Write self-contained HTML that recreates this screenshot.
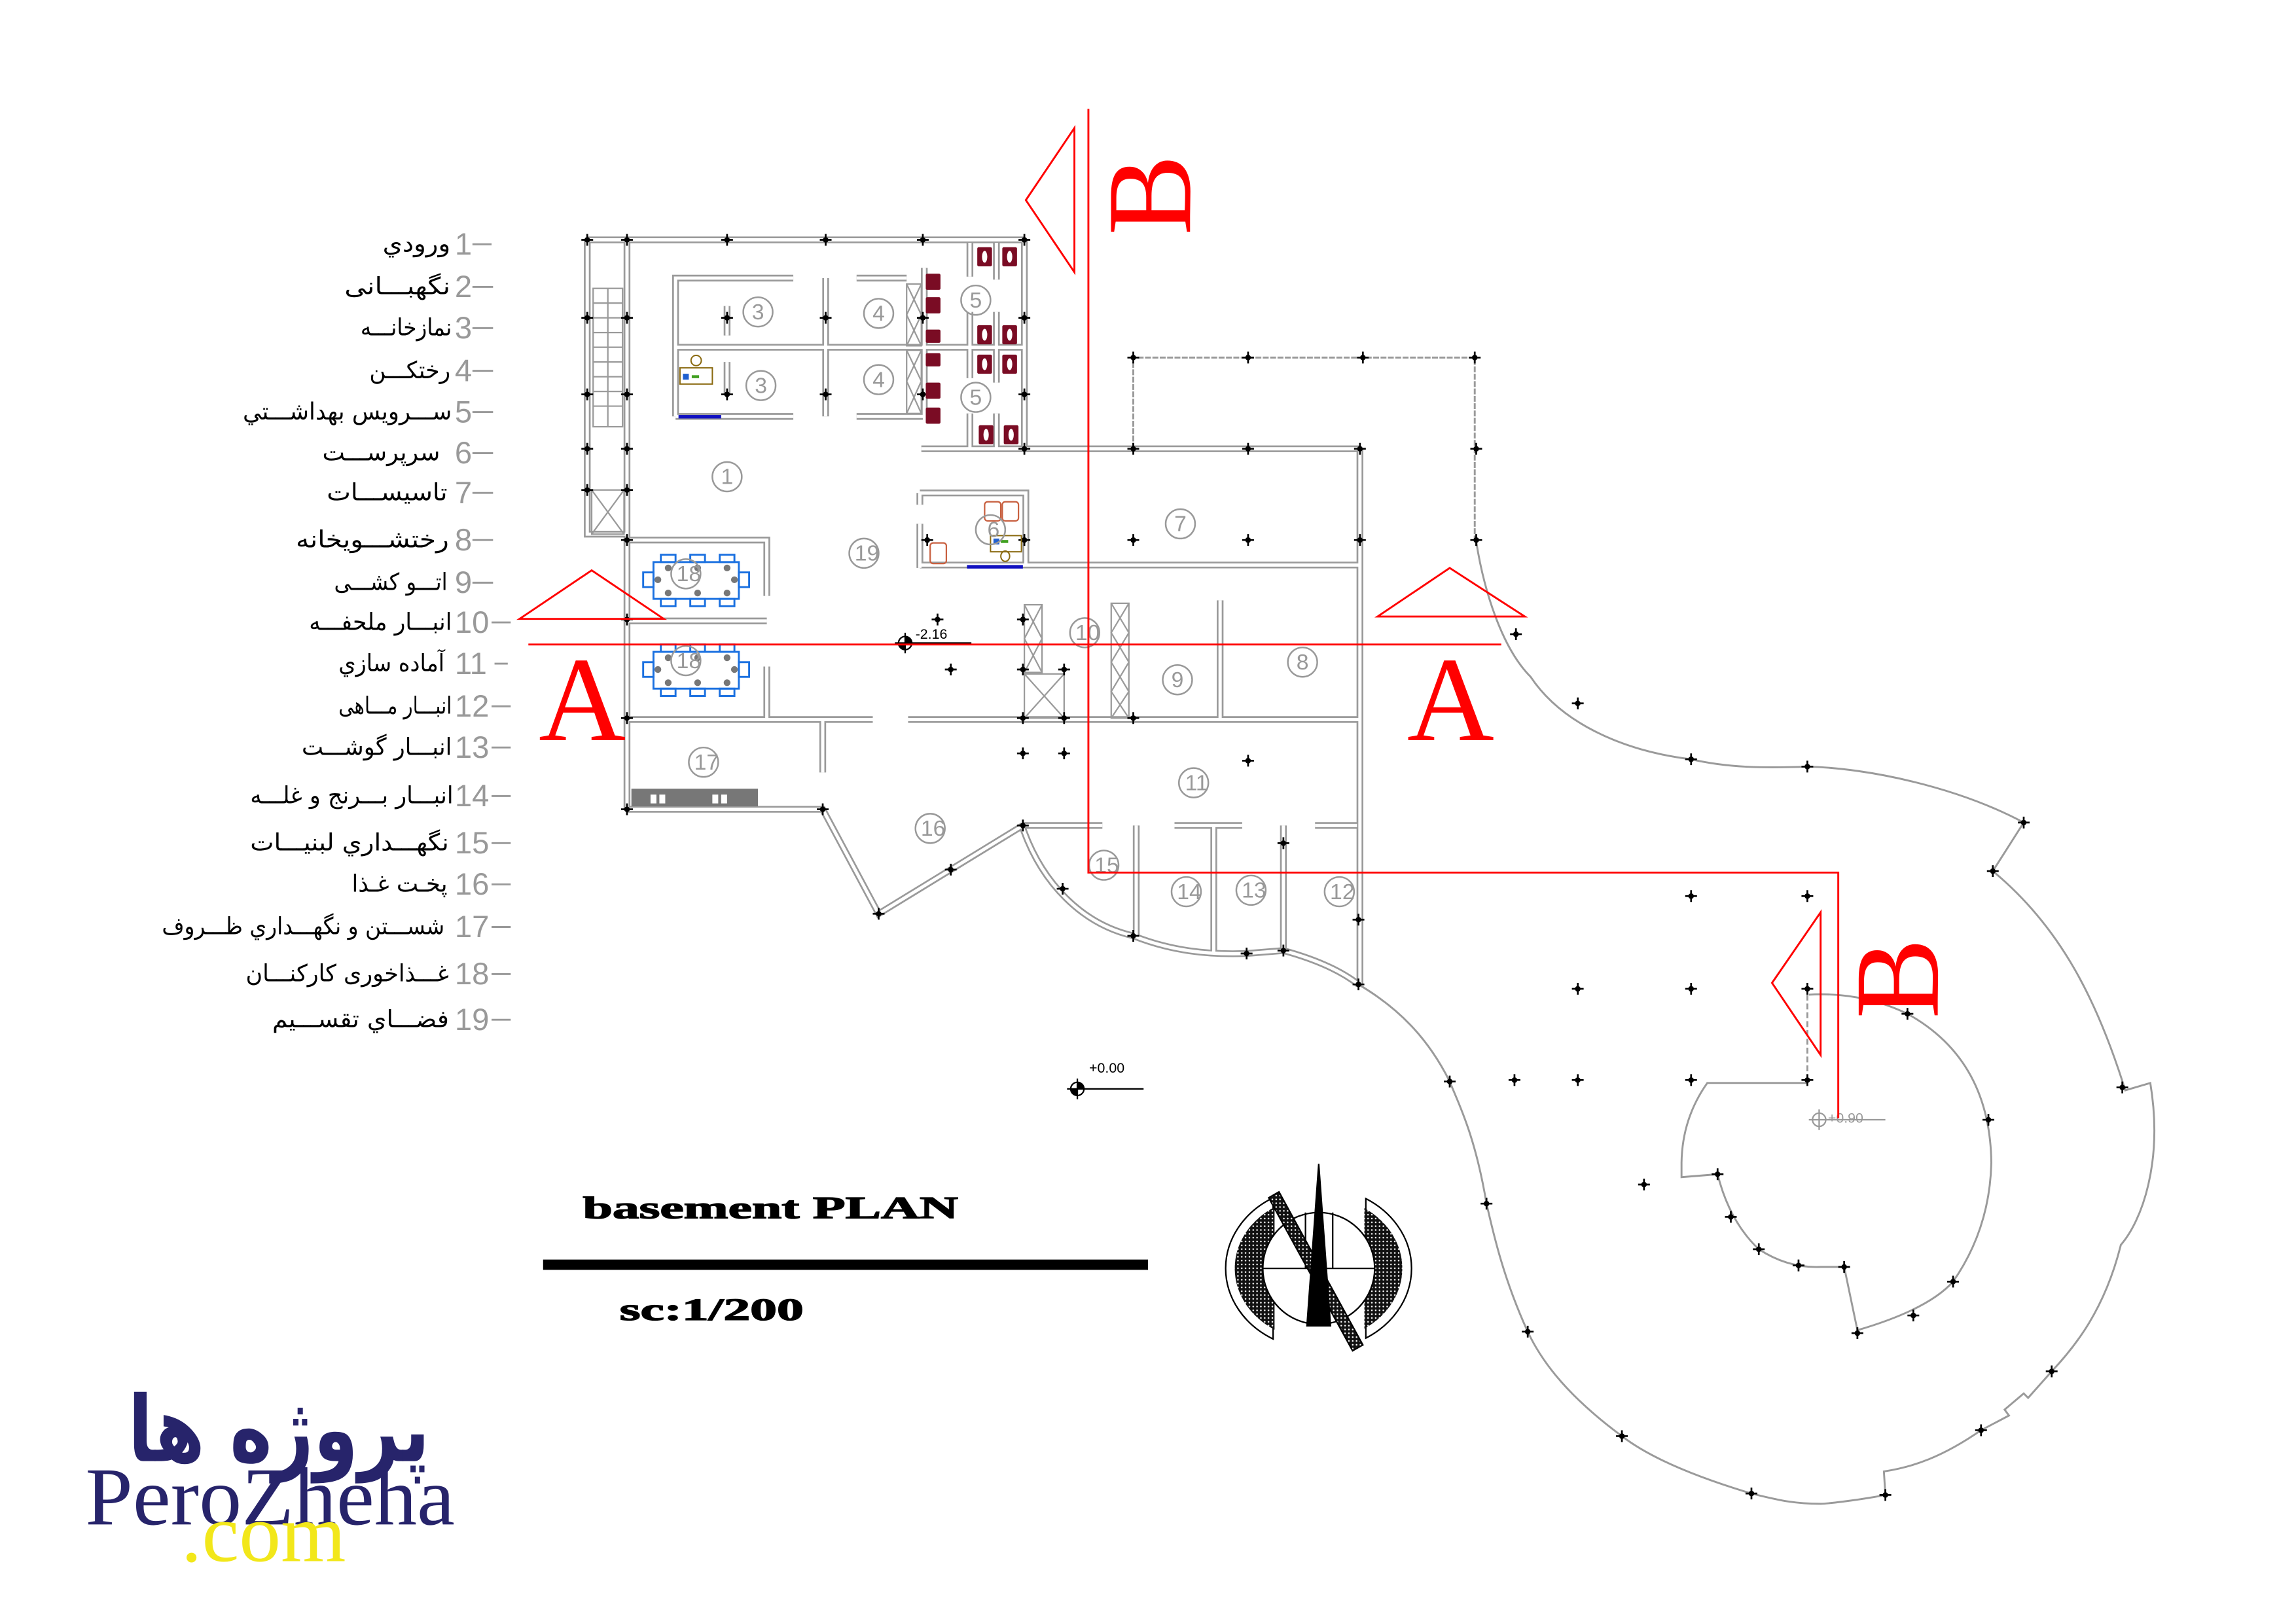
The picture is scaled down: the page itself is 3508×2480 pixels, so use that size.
<!DOCTYPE html>
<html><head><meta charset="utf-8"><style>
html,body{margin:0;padding:0;background:#fff;}
svg{display:block;}
</style></head><body>
<svg xmlns="http://www.w3.org/2000/svg" xmlns:xlink="http://www.w3.org/1999/xlink" width="3508" height="2480" viewBox="0 0 1560 1103" preserveAspectRatio="none">
<defs>
<g id="c"><path d="M-4,0H4M0,-4V4" stroke="#000" stroke-width="1.2"/><circle r="1.9" fill="#000"/></g>
<pattern id="hat" width="2.6" height="2.6" patternUnits="userSpaceOnUse"><rect width="2.6" height="2.6" fill="#111"/><circle cx="1.3" cy="1.3" r="0.55" fill="#fff"/></pattern>
<g id="walls">
<path d="M399,163H696 M399,163V363H426 M426,163V550 M426,550H559 L597,621 L695,561
M696,163V305 M626,305H924 M924,305V669
M459,283V189H539 M582,189H616 M561,189V283 M459,236H627 M494,208V228 M494,246V268 M459,283H539 M582,283H627 M628,182V284
M659,165V188 M659,212V236 M677,165V190 M677,212V236 M627,236H696 M659,236V257 M659,281V305 M677,236V260 M677,281V305
M625,335H697V384 M625,335V343 M625,356V386 M625,384H924
M426,367H521V405 M426,422H521 M521,453V489 M426,489H593 M617,489H924 M559,489V525
M829,408V489
M695,561H749 M772,561V636 M798,561H844 M824.7,561V647 M872,561V646 M893.5,561H922
M695,563 C708,600 735,628 770,636 C795,646 820,649 847,648 L872,646 Q905,655 923,669"/>
</g>
</defs>
<rect width="1560" height="1103" fill="#fff"/>

<g fill="none" stroke-linejoin="miter">
<use xlink:href="#walls" stroke="#9a9a9a" stroke-width="4.6"/>
<use xlink:href="#walls" stroke="#fff" stroke-width="2.2"/>
</g>

<g stroke="#9a9a9a" stroke-width="1" fill="none">
<rect x="403" y="196" width="20" height="94"/>
<path d="M403,206H423M403,216H423M403,226H423M403,236H423M403,246H423M403,256H423M403,266H423M403,276H423M413,196V290"/>
<rect x="402" y="333" width="22" height="30"/><path d="M402,333L424,363M424,333L402,363"/>
<rect x="616" y="193" width="10" height="42"/><path d="M616,193L626,214L616,235M626,193L616,214L626,235"/>
<rect x="616" y="238" width="10" height="43"/><path d="M616,238L626,259L616,281M626,238L616,259L626,281"/>
<rect x="696" y="411" width="12" height="46"/><path d="M696,411L708,434L696,457M708,411L696,434L708,457"/>
<rect x="696" y="458" width="27" height="30"/><path d="M696,458L723,488M723,458L696,488"/>
<rect x="755" y="410" width="12" height="78"/><path d="M755,410L767,430L755,450L767,470L755,488M767,410L755,430L767,450L755,470L767,488"/>
</g>

<g fill="none" stroke="#9a9a9a" stroke-width="1.3">
<path d="M770,305V243H1002V368" stroke-dasharray="4,1"/>
<path d="M1003,368 C1008,400 1020,440 1040,460 C1060,490 1100,510 1149,516 C1175,522 1200,522 1228,521 C1270,522 1330,535 1375,559 L1354,592 C1400,630 1425,680 1444,741 L1461,736 C1470,790 1455,830 1441,846 C1430,890 1410,915 1394,932 L1378,950 L1375,947 L1362,958 L1365,962 L1346,972 C1320,990 1300,997 1280,1000 L1281,1016 C1260,1020 1240,1022 1237,1022 C1220,1022 1210,1020 1190,1015 C1150,1003 1120,990 1102,976 C1060,945 1045,920 1038,905 C1022,870 1015,840 1010,818 C1002,770 990,748 985,735 C970,705 950,685 923,669"/>
<path d="M1228,736H1160 Q1143,760 1142.5,790 L1142.5,800 L1167,798 Q1175,830 1195,849 Q1215,862 1237,861 L1253,861 L1262,904 Q1310,890 1327,871 Q1352,835 1353,790 Q1352,720 1296,689 Q1265,674 1229,676"/>
<path d="M1228,676V736" stroke-dasharray="4,2"/>
</g>

<g>
<use xlink:href="#c" x="399" y="163"/><use xlink:href="#c" x="426" y="163"/><use xlink:href="#c" x="494" y="163"/><use xlink:href="#c" x="561" y="163"/><use xlink:href="#c" x="627" y="163"/><use xlink:href="#c" x="696" y="163"/>
<use xlink:href="#c" x="399" y="216"/><use xlink:href="#c" x="426" y="216"/><use xlink:href="#c" x="494" y="216"/><use xlink:href="#c" x="561" y="216"/><use xlink:href="#c" x="627" y="216"/><use xlink:href="#c" x="696" y="216"/>
<use xlink:href="#c" x="399" y="268"/><use xlink:href="#c" x="426" y="268"/><use xlink:href="#c" x="494" y="268"/><use xlink:href="#c" x="561" y="268"/><use xlink:href="#c" x="627" y="268"/><use xlink:href="#c" x="696" y="268"/>
<use xlink:href="#c" x="399" y="305"/><use xlink:href="#c" x="426" y="305"/><use xlink:href="#c" x="696" y="305"/><use xlink:href="#c" x="770" y="305"/><use xlink:href="#c" x="848" y="305"/><use xlink:href="#c" x="924" y="305"/><use xlink:href="#c" x="1003" y="305"/>
<use xlink:href="#c" x="399" y="333"/><use xlink:href="#c" x="426" y="333"/>
<use xlink:href="#c" x="426" y="367"/><use xlink:href="#c" x="630" y="367"/><use xlink:href="#c" x="696" y="367"/><use xlink:href="#c" x="770" y="367"/><use xlink:href="#c" x="848" y="367"/><use xlink:href="#c" x="924" y="367"/><use xlink:href="#c" x="1003" y="367"/>
<use xlink:href="#c" x="426" y="421"/><use xlink:href="#c" x="637" y="421"/><use xlink:href="#c" x="695" y="421"/>
<use xlink:href="#c" x="646" y="455"/><use xlink:href="#c" x="695" y="455"/><use xlink:href="#c" x="723" y="455"/>
<use xlink:href="#c" x="426" y="488"/><use xlink:href="#c" x="695" y="488"/><use xlink:href="#c" x="723" y="488"/><use xlink:href="#c" x="770" y="488"/>
<use xlink:href="#c" x="695" y="512"/><use xlink:href="#c" x="723" y="512"/><use xlink:href="#c" x="848" y="517"/>
<use xlink:href="#c" x="426" y="550"/><use xlink:href="#c" x="559" y="550"/><use xlink:href="#c" x="695" y="561"/>
<use xlink:href="#c" x="646" y="591"/><use xlink:href="#c" x="597" y="621"/><use xlink:href="#c" x="722" y="604"/><use xlink:href="#c" x="770" y="636"/>
<use xlink:href="#c" x="847" y="648"/><use xlink:href="#c" x="872" y="646"/><use xlink:href="#c" x="872" y="573"/><use xlink:href="#c" x="923" y="625"/><use xlink:href="#c" x="923" y="669"/>
<use xlink:href="#c" x="770" y="243"/><use xlink:href="#c" x="848" y="243"/><use xlink:href="#c" x="926" y="243"/><use xlink:href="#c" x="1002" y="243"/>
<use xlink:href="#c" x="1030" y="431"/><use xlink:href="#c" x="1072" y="478"/><use xlink:href="#c" x="1149" y="516"/><use xlink:href="#c" x="1228" y="521"/><use xlink:href="#c" x="1375" y="559"/><use xlink:href="#c" x="1354" y="592"/>
<use xlink:href="#c" x="1149" y="609"/><use xlink:href="#c" x="1228" y="609"/><use xlink:href="#c" x="1072" y="672"/><use xlink:href="#c" x="1149" y="672"/><use xlink:href="#c" x="1228" y="672"/>
<use xlink:href="#c" x="985" y="735"/><use xlink:href="#c" x="1029" y="734"/><use xlink:href="#c" x="1072" y="734"/><use xlink:href="#c" x="1149" y="734"/><use xlink:href="#c" x="1228" y="734"/>
<use xlink:href="#c" x="1117" y="805"/><use xlink:href="#c" x="1167" y="798"/><use xlink:href="#c" x="1176" y="827"/><use xlink:href="#c" x="1195" y="849"/><use xlink:href="#c" x="1222" y="860"/><use xlink:href="#c" x="1253" y="861"/><use xlink:href="#c" x="1262" y="906"/>
<use xlink:href="#c" x="1296" y="689"/><use xlink:href="#c" x="1351" y="761"/><use xlink:href="#c" x="1327" y="871"/><use xlink:href="#c" x="1300" y="894"/>
<use xlink:href="#c" x="1442" y="739"/><use xlink:href="#c" x="1394" y="932"/><use xlink:href="#c" x="1346" y="972"/><use xlink:href="#c" x="1281" y="1016"/><use xlink:href="#c" x="1190" y="1015"/><use xlink:href="#c" x="1102" y="976"/><use xlink:href="#c" x="1038" y="905"/><use xlink:href="#c" x="1010" y="818"/>
</g>

<g fill="#7a0c24">
<rect x="664" y="168" width="10" height="13" rx="1"/><rect x="681" y="168" width="10" height="13" rx="1"/>
<rect x="664" y="221" width="10" height="13" rx="1"/><rect x="681" y="221" width="10" height="13" rx="1"/>
<rect x="664" y="241" width="10" height="13" rx="1"/><rect x="681" y="241" width="10" height="13" rx="1"/>
<rect x="665" y="289" width="10" height="13" rx="1"/><rect x="682" y="289" width="10" height="13" rx="1"/>
<rect x="629" y="186" width="10" height="11" rx="1"/><rect x="629" y="202" width="10" height="11" rx="1"/><rect x="629" y="224" width="10" height="9" rx="1"/>
<rect x="629" y="240" width="10" height="9" rx="1"/><rect x="629" y="260" width="10" height="11" rx="1"/><rect x="629" y="277" width="10" height="11" rx="1"/>
</g>
<g fill="#fff"><ellipse cx="669" cy="174.5" rx="1.8" ry="4"/><ellipse cx="686" cy="174.5" rx="1.8" ry="4"/><ellipse cx="669" cy="227.5" rx="1.8" ry="4"/><ellipse cx="686" cy="227.5" rx="1.8" ry="4"/><ellipse cx="669" cy="247.5" rx="1.8" ry="4"/><ellipse cx="686" cy="247.5" rx="1.8" ry="4"/><ellipse cx="670" cy="295.5" rx="1.8" ry="4"/><ellipse cx="687" cy="295.5" rx="1.8" ry="4"/></g>
<rect x="461" y="282" width="29" height="2.4" fill="#1010c0"/>
<rect x="657" y="384" width="38" height="2.4" fill="#1010c0"/>
<g fill="none" stroke="#8a6a10" stroke-width="0.9"><rect x="462" y="250" width="22" height="11"/><circle cx="473" cy="245" r="3.5"/><rect x="673" y="364" width="21" height="11"/><ellipse cx="683" cy="378" rx="3" ry="3.5"/></g>
<rect x="464" y="254" width="4" height="4" fill="#2060d0"/><rect x="675" y="366" width="4" height="4" fill="#2060d0"/><rect x="470" y="255" width="5" height="2" fill="#40a020"/><rect x="680" y="367" width="5" height="2" fill="#40a020"/>
<g fill="none" stroke="#c86040" stroke-width="1"><rect x="669" y="341" width="11" height="13" rx="2"/><rect x="681" y="341" width="11" height="13" rx="2"/><rect x="632" y="369" width="11" height="14" rx="2"/></g>
<g fill="none" stroke="#1a70e0" stroke-width="1.3">
<rect x="444" y="382" width="58" height="25"/><rect x="449" y="377" width="10" height="5"/><rect x="469" y="377" width="10" height="5"/><rect x="489" y="377" width="10" height="5"/><rect x="449" y="407" width="10" height="5"/><rect x="469" y="407" width="10" height="5"/><rect x="489" y="407" width="10" height="5"/><rect x="437" y="389" width="7" height="10"/><rect x="502" y="389" width="7" height="10"/>
<rect x="444" y="443" width="58" height="25"/><rect x="449" y="438" width="10" height="5"/><rect x="469" y="438" width="10" height="5"/><rect x="489" y="438" width="10" height="5"/><rect x="449" y="468" width="10" height="5"/><rect x="469" y="468" width="10" height="5"/><rect x="489" y="468" width="10" height="5"/><rect x="437" y="450" width="7" height="10"/><rect x="502" y="450" width="7" height="10"/>
</g>
<g fill="#777"><circle cx="454" cy="386" r="2.3"/><circle cx="474" cy="386" r="2.3"/><circle cx="494" cy="386" r="2.3"/><circle cx="454" cy="403" r="2.3"/><circle cx="474" cy="403" r="2.3"/><circle cx="494" cy="403" r="2.3"/><circle cx="447" cy="394" r="2.3"/><circle cx="499" cy="394" r="2.3"/>
<circle cx="454" cy="447" r="2.3"/><circle cx="474" cy="447" r="2.3"/><circle cx="494" cy="447" r="2.3"/><circle cx="454" cy="464" r="2.3"/><circle cx="474" cy="464" r="2.3"/><circle cx="494" cy="464" r="2.3"/><circle cx="447" cy="455" r="2.3"/><circle cx="499" cy="455" r="2.3"/></g>
<rect x="429" y="536" width="86" height="12" fill="#777"/>
<g fill="#fff"><rect x="442" y="540" width="4" height="6"/><rect x="448" y="540" width="4" height="6"/><rect x="484" y="540" width="4" height="6"/><rect x="490" y="540" width="4" height="6"/></g>

<g fill="none" stroke="#999" stroke-width="1.1">
<circle cx="515" cy="212" r="10"/><circle cx="517" cy="262" r="10"/><circle cx="597" cy="213" r="10"/><circle cx="597" cy="258" r="10"/><circle cx="663" cy="204" r="10"/><circle cx="663" cy="270" r="10"/><circle cx="494" cy="324" r="10"/><circle cx="587" cy="376" r="10"/><circle cx="673" cy="360" r="10"/><circle cx="802" cy="356" r="10"/><circle cx="737" cy="430" r="10"/><circle cx="800" cy="462" r="10"/><circle cx="885" cy="450" r="10"/><circle cx="466" cy="390" r="10"/><circle cx="466" cy="449" r="10"/><circle cx="478" cy="518" r="10"/><circle cx="811" cy="532" r="10"/><circle cx="632" cy="563" r="10"/><circle cx="750" cy="588" r="10"/><circle cx="806" cy="606" r="10"/><circle cx="850" cy="605" r="10"/><circle cx="910" cy="606" r="10"/>
</g>
<g font-family="Liberation Sans, sans-serif" font-size="15" fill="#999" text-anchor="middle">
<text x="515" y="217">3</text><text x="517" y="267">3</text><text x="597" y="218">4</text><text x="597" y="263">4</text><text x="663" y="209">5</text><text x="663" y="275">5</text><text x="494" y="329">1</text><text x="589" y="381">19</text><text x="675" y="365">6</text><text x="802" y="361">7</text><text x="739" y="435">10</text><text x="800" y="467">9</text><text x="885" y="455">8</text><text x="468" y="395">18</text><text x="468" y="454">18</text><text x="480" y="523">17</text><text x="813" y="537">11</text><text x="634" y="568">16</text><text x="752" y="593">15</text><text x="808" y="611">14</text><text x="852" y="610">13</text><text x="912" y="611">12</text>
</g>

<g stroke="#000" stroke-width="1" fill="none"><circle cx="615" cy="437" r="4.5"/><path d="M608,437H660M615,430V444"/><circle cx="732" cy="740" r="4.5"/><path d="M725,740H777M732,733V747"/></g>
<path d="M615,437V432.5A4.5,4.5 0 0 1 619.5,437Z M615,437V441.5A4.5,4.5 0 0 1 610.5,437Z" fill="#000"/>
<path d="M732,740V735.5A4.5,4.5 0 0 1 736.5,740Z M732,740V744.5A4.5,4.5 0 0 1 727.5,740Z" fill="#000"/>
<g stroke="#999" stroke-width="1" fill="none"><circle cx="1236" cy="761" r="4.5"/><path d="M1229,761H1281M1236,754V768"/></g>
<g font-family="Liberation Sans, sans-serif" font-size="9.5"><text x="622" y="434">-2.16</text><text x="740" y="729">+0.00</text><text x="1242" y="763" fill="#999">+0.90</text></g>

<g stroke="#f00" stroke-width="1.3" fill="none">
<path d="M739.5,74V593H1249V760"/>
<path d="M359,438H1020"/>
<path d="M730,87L697,136L730,185Z"/>
<path d="M1237,620L1204,668L1237,717Z"/>
<path d="M353,420.6L402,387.6L451,420.6Z"/>
<path d="M936,419L985,386L1036,419Z"/>
</g>
<g font-family="Liberation Serif, serif" fill="#f00" font-size="82">
<text x="366" y="503">A</text><text x="956" y="503">A</text>
<text x="0" y="0" text-anchor="middle" dominant-baseline="central" transform="translate(781,132.5) rotate(-90)">B</text>
<text x="0" y="0" text-anchor="middle" dominant-baseline="central" transform="translate(1289,665) rotate(-90)">B</text>
</g>

<g font-family="DejaVu Sans, sans-serif" font-size="16" fill="#000" text-anchor="end">
<text x="306" y="171" textLength="46" lengthAdjust="spacingAndGlyphs">ورودي</text>
<text x="306" y="200" textLength="72" lengthAdjust="spacingAndGlyphs">نگهبـــانی</text>
<text x="307" y="228" textLength="62" lengthAdjust="spacingAndGlyphs">نمازخانـــه</text>
<text x="306" y="257" textLength="55" lengthAdjust="spacingAndGlyphs">رختكـــن</text>
<text x="307" y="285" textLength="142" lengthAdjust="spacingAndGlyphs">ســـرويس بهداشـــتي</text>
<text x="299" y="313" textLength="80" lengthAdjust="spacingAndGlyphs">سرپرســـت</text>
<text x="304" y="340" textLength="82" lengthAdjust="spacingAndGlyphs">تاسيســـات</text>
<text x="305" y="372" textLength="104" lengthAdjust="spacingAndGlyphs">رختشـــويخانه</text>
<text x="304" y="401" textLength="77" lengthAdjust="spacingAndGlyphs">اتـــو كشـــی</text>
<text x="307" y="428" textLength="97" lengthAdjust="spacingAndGlyphs">انبـــار ملحفـــه</text>
<text x="302" y="456" textLength="72" lengthAdjust="spacingAndGlyphs">آماده سازي</text>
<text x="307" y="485" textLength="77" lengthAdjust="spacingAndGlyphs">انبـــار مـــاهی</text>
<text x="307" y="513" textLength="102" lengthAdjust="spacingAndGlyphs">انبـــار گوشـــت</text>
<text x="308" y="546" textLength="138" lengthAdjust="spacingAndGlyphs">انبـــار بـــرنج و غلـــه</text>
<text x="305" y="578" textLength="135" lengthAdjust="spacingAndGlyphs">نگهـــداري لبنيـــات</text>
<text x="304" y="606" textLength="65" lengthAdjust="spacingAndGlyphs">پخـت غـذا</text>
<text x="302" y="635" textLength="192" lengthAdjust="spacingAndGlyphs">شســـتن و نگهـــداري ظـــروف</text>
<text x="305" y="667" textLength="138" lengthAdjust="spacingAndGlyphs">غـــذاخوری كاركنـــان</text>
<text x="305" y="698" textLength="120" lengthAdjust="spacingAndGlyphs">فضـــاي تقســـيم</text>
</g>
<g font-family="Liberation Sans, sans-serif" font-size="21" fill="#999">
<text x="309" y="173">1</text><text x="309" y="202">2</text><text x="309" y="230">3</text><text x="309" y="259">4</text><text x="309" y="287">5</text><text x="309" y="315">6</text><text x="309" y="342">7</text><text x="309" y="374">8</text><text x="309" y="403">9</text>
<text x="309" y="430">10</text><text x="309" y="458">11</text><text x="309" y="487">12</text><text x="309" y="515">13</text><text x="309" y="548">14</text><text x="309" y="580">15</text><text x="309" y="608">16</text><text x="309" y="637">17</text><text x="309" y="669">18</text><text x="309" y="700">19</text>
</g>
<g stroke="#999" stroke-width="1.3">
<path d="M321,166H334M321,195H335M321,223H335M321,252H335M321,280H335M321,308H335M321,335H335M321,367H335M321,396H335"/>
<path d="M334,423H347M336,451H345M334,480H347M334,508H347M334,541H347M334,573H347M334,601H347M334,630H347M334,662H347M334,693H347"/>
</g>

<g font-family="Liberation Serif, serif" font-weight="bold" fill="#000" stroke="#000" stroke-width="0.6">
<text x="396" y="828" font-size="21" textLength="255" lengthAdjust="spacingAndGlyphs">basement  PLAN</text>
<text x="421" y="897" font-size="21" textLength="125" lengthAdjust="spacingAndGlyphs">sc:1/200</text>
</g>
<rect x="369" y="856" width="411" height="7" fill="#000"/>

<g stroke="#000" stroke-width="1">
<path d="M865,814 A63,55 0 0 0 865,910 Z" fill="#fff"/>
<path d="M928,814.6 A63,55 0 0 1 928,909.4 Z" fill="#fff"/>
<path d="M866,820.3 A57,49 0 0 0 866,903.7 Z" fill="url(#hat)" stroke="none"/>
<path d="M927,821 A57,49 0 0 1 927,903 Z" fill="url(#hat)" stroke="none"/>
<circle cx="896" cy="862" r="38" fill="#fff"/>
<path d="M887,824V862M905.5,824V862M858,862H934" fill="none"/>
<path d="M862,814 L869,810 L926,914 L919,918 Z" fill="url(#hat)"/>
<path d="M896,791 L888,901 L904,901 Z" fill="#000"/>
</g>

<text x="292" y="993" text-anchor="end" font-family="DejaVu Sans, sans-serif" font-weight="bold" font-size="62" fill="#27246b" textLength="205" lengthAdjust="spacingAndGlyphs">پروژه ها</text>
<text x="58" y="1036" font-family="Liberation Serif, serif" font-size="56" fill="#27246b" textLength="251" lengthAdjust="spacingAndGlyphs">PeroZheha</text>
<text x="123" y="1061" font-family="Liberation Serif, serif" font-size="56" fill="#f2e71a" textLength="112" lengthAdjust="spacingAndGlyphs">.com</text>
</svg>
</body></html>
